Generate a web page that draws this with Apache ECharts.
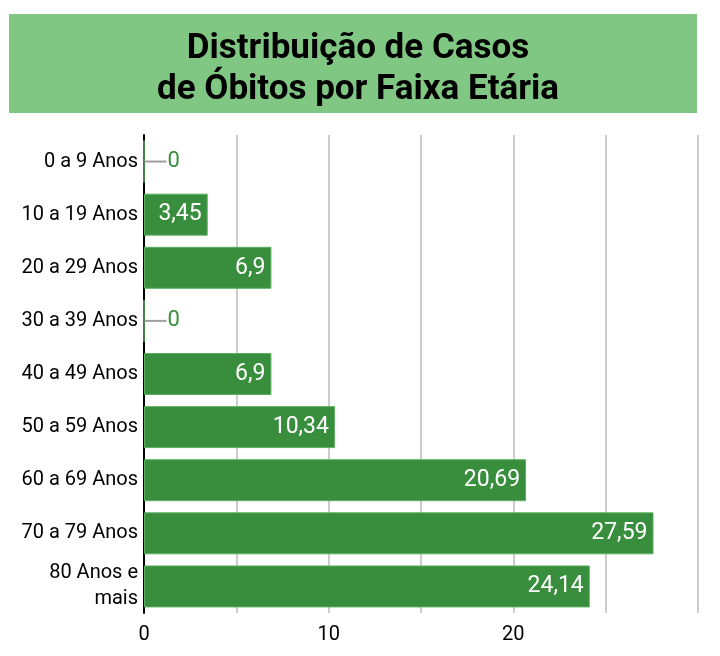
<!DOCTYPE html>
<html>
<head>
<meta charset="utf-8">
<script src="https://cdn.jsdelivr.net/npm/echarts@6/dist/echarts.min.js"></script>
<style>
  html, body { margin: 0; padding: 0; background: #fff; }
  #main { width: 720px; height: 656px; }
</style>
</head>
<body>
<div id="main"></div>
<script>
// faixas etarias e percentuais
var faixas = ['0 a 9 Anos', '10 a 19 Anos', '20 a 29 Anos', '30 a 39 Anos', '40 a 49 Anos',
              '50 a 59 Anos', '60 a 69 Anos', '70 a 79 Anos', '80 Anos e\nmais'];
var valores = [0, 3.45, 6.9, 0, 6.9, 10.34, 20.69, 27.59, 24.14];
var ticksComRotulo = [0, 10, 20];

function virgula(v) {
    return String(v).replace('.', ',');
}

var dados = [];
for (var i = 0; i < valores.length; i++) {
    var n = valores[i];
    if (n === 0) {
        dados.push({
            value: n,
            label: {
                position: 'right',
                distance: 0,
                formatter: '{linha|}{zero|' + virgula(n) + '}'
            }
        });
    } else {
        dados.push({ value: n });
    }
}

var myChart = echarts.init(document.getElementById('main'));
var option = {
    animation: false,
    graphic: [{
        type: 'rect',
        shape: { x: 9, y: 14, width: 688, height: 99 },
        style: { fill: '#81c784' },
        z: 0
    }],
    title: {
        text: 'Distribuição de Casos\nde Óbitos por Faixa Etária',
        left: 353,
        top: 24,
        textAlign: 'center',
        textStyle: {
            fontFamily: 'Roboto',
            fontWeight: 'bold',
            fontSize: 35,
            lineHeight: 41,
            color: '#000'
        }
    },
    grid: { left: 144, right: 22, top: 135, bottom: 43 },
    xAxis: {
        type: 'value',
        min: 0,
        max: 30,
        interval: 5,
        axisLine: { show: false },
        axisTick: { show: false },
        splitLine: { lineStyle: { color: '#cccccc', width: 2 } },
        axisLabel: {
            fontFamily: 'Roboto',
            fontSize: 20,
            color: '#000',
            margin: 12,
            formatter: function (v) {
                return ticksComRotulo.indexOf(v) >= 0 ? String(v) : '';
            }
        }
    },
    yAxis: {
        type: 'category',
        inverse: true,
        data: faixas,
        axisLine: { lineStyle: { color: '#000', width: 2 } },
        axisTick: { show: false },
        axisLabel: {
            fontFamily: 'Roboto',
            fontSize: 20,
            color: '#000',
            margin: 6,
            lineHeight: 26
        }
    },
    series: [{
        type: 'bar',
        data: dados,
        barCategoryGap: '21%',
        itemStyle: {
            color: '#388e3c',
            borderColor: '#5cae60',
            borderWidth: 1
        },
        label: {
            show: true,
            position: 'insideRight',
            distance: 6,
            fontFamily: 'Roboto',
            fontSize: 23,
            color: '#fff',
            formatter: function (p) { return virgula(p.value); },
            rich: {
                linha: {
                    width: 22,
                    height: 2,
                    backgroundColor: '#9e9e9e'
                },
                zero: {
                    fontFamily: 'Roboto',
                    fontSize: 22,
                    color: '#388e3c',
                    padding: [0, 0, 0, 1]
                }
            }
        }
    }]
};
myChart.setOption(option);
</script>
</body>
</html>
